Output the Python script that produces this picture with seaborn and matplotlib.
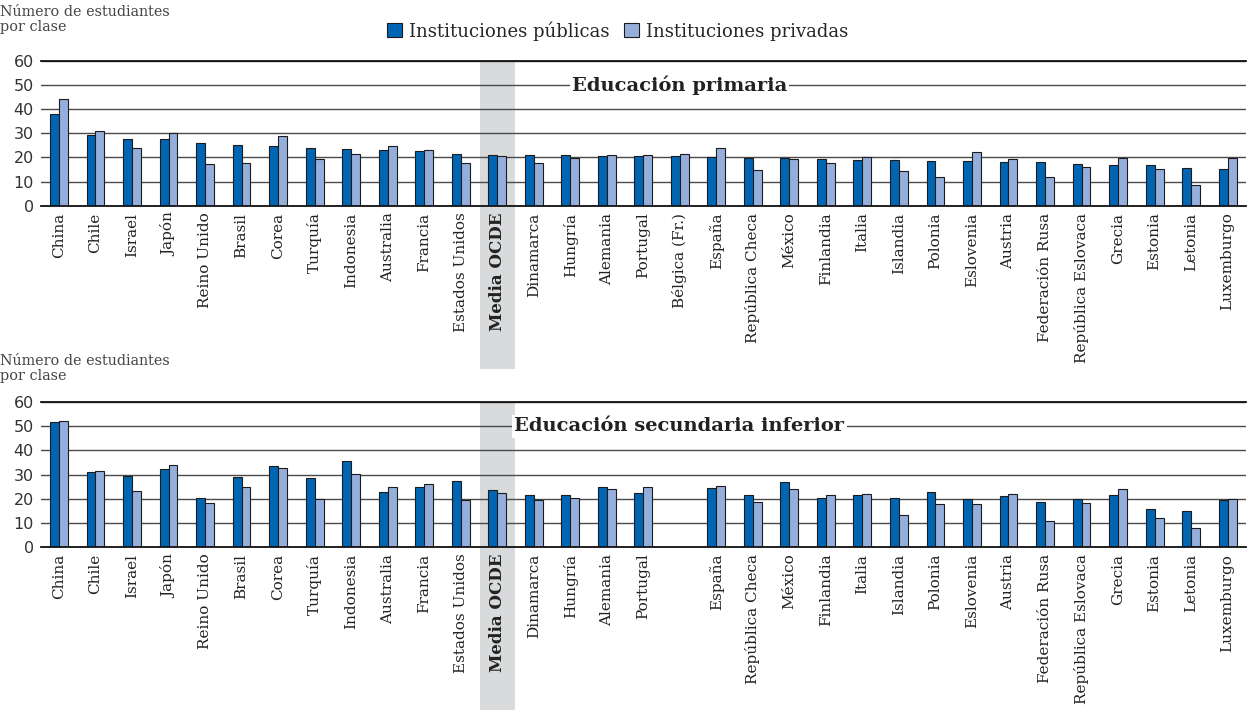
"""
Class size in public and private institutions, primary and lower secondary.
"""

import matplotlib.pyplot as plt
import numpy as np
import pandas as pd
import seaborn as sns

COUNTRIES = [
    "China", "Chile", "Israel", "Japón", "Reino Unido", "Brasil", "Corea",
    "Turquía", "Indonesia", "Australia", "Francia", "Estados Unidos",
    "Media OCDE", "Dinamarca", "Hungría", "Alemania", "Portugal",
    "Bélgica (Fr.)", "España", "República Checa", "México", "Finlandia",
    "Italia", "Islandia", "Polonia", "Eslovenia", "Austria",
    "Federación Rusa", "República Eslovaca", "Grecia", "Estonia", "Letonia",
    "Luxemburgo",
]

PRIMARY_PUBLIC = [
    38.2, 29.2, 27.8, 27.7, 25.9, 25.1, 24.9, 24.0, 23.5, 23.0, 22.6, 21.3,
    21.1, 20.9, 20.9, 20.8, 20.5, 20.5, 20.2, 19.7, 19.7, 19.4, 19.0, 18.8,
    18.6, 18.6, 18.0, 18.0, 17.3, 17.0, 16.9, 15.8, 15.4,
]
PRIMARY_PRIVATE = [
    44.3, 30.9, 24.0, 30.3, 17.2, 17.6, 28.9, 19.5, 21.3, 24.7, 23.1, 17.6,
    20.4, 17.7, 19.8, 20.9, 20.9, 21.6, 24.1, 14.8, 19.4, 17.6, 20.1, 14.5,
    11.9, 22.2, 19.4, 11.9, 16.2, 19.7, 15.2, 8.6, 19.7,
]

# Bélgica (Fr.) has no lower secondary data
SECONDARY_PUBLIC = [
    51.8, 30.9, 29.2, 32.5, 20.1, 28.8, 33.5, 28.5, 35.7, 22.6, 24.8, 27.3,
    23.5, 21.3, 21.3, 24.7, 22.2, np.nan, 24.4, 21.3, 27.1, 20.1, 21.7, 20.1,
    22.6, 19.8, 21.1, 18.4, 19.8, 21.7, 15.9, 14.9, 19.4,
]
SECONDARY_PRIVATE = [
    52.2, 31.3, 23.0, 33.9, 18.3, 24.8, 32.7, 19.8, 30.3, 24.9, 25.9, 19.3,
    22.2, 19.5, 20.2, 24.0, 24.8, np.nan, 25.3, 18.4, 23.8, 21.6, 22.0, 13.2,
    17.6, 17.6, 21.8, 10.9, 18.1, 23.8, 12.0, 8.0, 19.9,
]

SERIES = ["Instituciones públicas", "Instituciones privadas"]
COLORS = ["#0066b3", "#95afdc"]
# title, public, private, axes top, y-label top (figure fractions)
PANELS = [
    ("Educación primaria", PRIMARY_PUBLIC, PRIMARY_PRIVATE, 0.915, 0.993),
    ("Educación secundaria inferior", SECONDARY_PUBLIC, SECONDARY_PRIVATE, 0.4405, 0.508),
]
YTICKS = [0, 10, 20, 30, 40, 50, 60]
Y_LABEL = "Número de estudiantes\npor clase"
AVERAGE = "Media OCDE"
SERIF = "DejaVu Serif"


def long_frame(public, private):
    return pd.DataFrame({
        "country": COUNTRIES * 2,
        "value": list(public) + list(private),
        "type": [SERIES[0]] * len(COUNTRIES) + [SERIES[1]] * len(COUNTRIES),
    })


def draw_panel(fig, title, public, private, top, label_top):
    height = 0.201
    ax = fig.add_axes([0.0326, top - height, 0.9657, height])
    df = long_frame(public, private)
    sns.barplot(
        data=df, x="country", y="value", hue="type", order=COUNTRIES,
        hue_order=SERIES, palette=COLORS, saturation=1, width=0.49, gap=0,
        edgecolor="#1c1c1c", linewidth=0.8, ax=ax,
    )
    ax.get_legend().remove()
    for container in ax.containers:
        for bar in container:
            bar.set_zorder(3)
    ax.set_xlim(-0.5, len(COUNTRIES) - 0.5)
    ax.set_ylim(0, 60)
    ax.set_yticks(YTICKS)
    ax.yaxis.grid(True, color="#4a4a4a", linewidth=1.0)
    ax.set_axisbelow(True)
    ax.set_xlabel("")
    ax.set_ylabel("")

    labels = []
    for country, a, b in zip(COUNTRIES, public, private):
        labels.append("" if np.isnan(a) and np.isnan(b) else country)
    ax.set_xticks(range(len(COUNTRIES)))
    ax.set_xticklabels(labels, rotation=90, fontsize=11, family=SERIF, color="#222222")
    for tick in ax.get_xticklabels():
        if tick.get_text() == AVERAGE:
            tick.set_fontweight("bold")
            tick.set_fontsize(12)
    ax.tick_params(axis="x", length=0, pad=5)
    ax.tick_params(axis="y", length=3, color="#4a4a4a", labelsize=11.5,
                   labelcolor="#333333", pad=2)

    for side in ["left", "right"]:
        ax.spines[side].set_visible(False)
    for side in ["top", "bottom"]:
        ax.spines[side].set_color("#111111")
        ax.spines[side].set_linewidth(1.3)
        ax.spines[side].set_zorder(4)

    # grey band behind the OECD average, running down behind its label
    idx = COUNTRIES.index(AVERAGE)
    ax.axvspan(idx - 0.48, idx + 0.48, ymin=-1.13, ymax=1, color="#d9dadc",
               zorder=0.1, clip_on=False, linewidth=0)

    ax.text(0.53, 50 / 60, title, transform=ax.transAxes, ha="center",
            va="center", fontsize=14, fontweight="bold", family=SERIF,
            color="#222222", zorder=5,
            bbox=dict(facecolor="white", edgecolor="none", pad=1.5))

    fig.text(0.0, label_top, Y_LABEL, ha="left", va="top", fontsize=10.4,
             family=SERIF, color="#444444", linespacing=1.1)
    return ax


def main():
    sns.set_style("white")
    fig = plt.figure(figsize=(12.48, 7.19), dpi=100)
    axes = [draw_panel(fig, *panel) for panel in PANELS]

    fig.legend(
        axes[0].containers[:2], SERIES, loc="center", bbox_to_anchor=(0.495, 0.957),
        ncol=2, frameon=False, handlelength=0.8, handleheight=0.8,
        handletextpad=0.4, columnspacing=0.8,
        prop={"family": SERIF, "size": 13},
    )
    fig.savefig("out.png", dpi=100)
    plt.close(fig)


if __name__ == "__main__":
    main()
